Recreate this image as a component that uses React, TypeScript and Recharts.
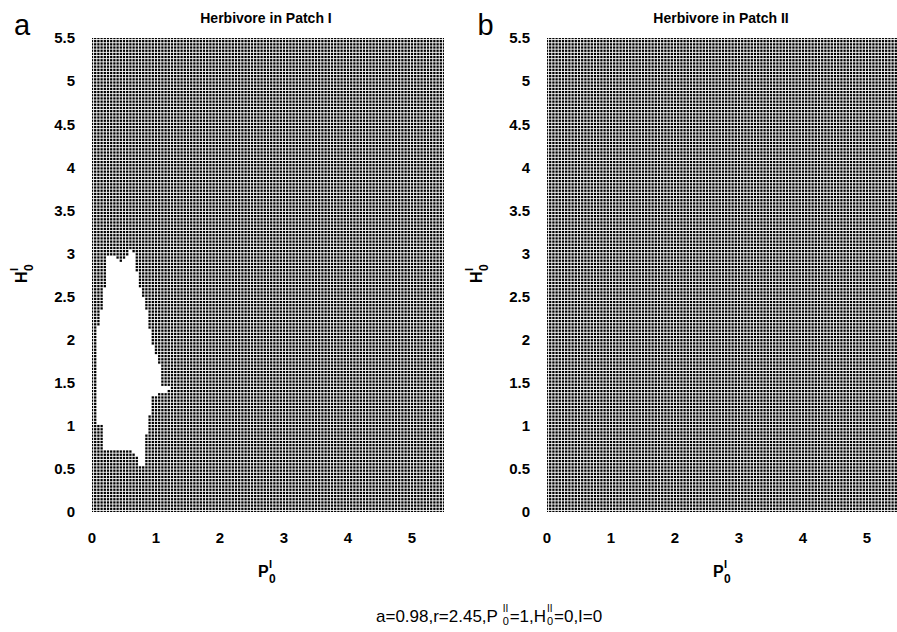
import React from 'react';
import { ScatterChart, Scatter, XAxis, YAxis } from 'recharts';

// ---- data ----
const AXIS_MAX = 5.5;
const P0_GRID_COUNT = 111; // sampled initial plant densities (columns)
const H0_GRID_COUNT = 150; // sampled initial herbivore densities (rows)
const xTicks = [0, 1, 2, 3, 4, 5];
const yTicks = [0, 0.5, 1, 1.5, 2, 2.5, 3, 3.5, 4, 4.5, 5, 5.5];
const panelTitles = ['Herbivore in Patch I', 'Herbivore in Patch II'];
const panelLetters = ['a', 'b'];
// boundary (P0, H0) of the blank (extinction) region in panel a
const blankRegionA: [number, number][] = [
  [0.28, 3.0], [0.44, 2.91], [0.56, 2.98], [0.64, 3.09], [0.67, 2.89], [0.72, 2.69],
  [0.8, 2.49], [0.86, 2.31], [0.92, 2.05], [0.94, 1.96], [1.06, 1.68], [1.09, 1.47],
  [1.31, 1.42], [1.06, 1.39], [0.95, 1.33], [0.94, 1.18], [0.86, 1.09], [0.83, 0.57],
  [0.78, 0.49], [0.67, 0.7], [0.2, 0.72], [0.17, 1.01], [0.08, 1.04], [0.08, 2.11],
  [0.14, 2.3], [0.19, 2.49], [0.23, 2.89], [0.25, 2.96],
];
const blankRegionB: [number, number][] = [];

const FONT = '"Liberation Sans", Arial, Helvetica, sans-serif';

const p0Values = Array.from({ length: P0_GRID_COUNT }, (_, i) => (i * AXIS_MAX) / (P0_GRID_COUNT - 1));
const h0Values = Array.from({ length: H0_GRID_COUNT }, (_, j) => (j * AXIS_MAX) / (H0_GRID_COUNT - 1));

function inside(poly: [number, number][], x: number, y: number) {
  let c = false;
  for (let i = 0, j = poly.length - 1; i < poly.length; j = i++) {
    const [xi, yi] = poly[i];
    const [xj, yj] = poly[j];
    if (yi > y !== yj > y && x < ((xj - xi) * (y - yi)) / (yj - yi) + xi) c = !c;
  }
  return c;
}

function buildPoints(blank: [number, number][]) {
  const pts: { p: number; h: number }[] = [];
  for (const p of p0Values) {
    for (const h of h0Values) {
      if (blank.length && inside(blank, p, h)) continue;
      pts.push({ p, h });
    }
  }
  return pts;
}

const dataA = buildPoints(blankRegionA);
const dataB = buildPoints(blankRegionB);

const Dot = (props: any) => (
  <rect x={props.cx - 1.15} y={props.cy - 1.15} width={2.3} height={2.3} fill="#000" />
);

const tickStyle = { fontSize: 15, fontWeight: 'bold', fill: '#000', fontFamily: FONT } as any;

function Panel({ data, left }: { data: { p: number; h: number }[]; left: number }) {
  return (
    <div style={{ position: 'absolute', left, top: 0 }}>
      <ScatterChart width={455} height={632} margin={{ top: 38, right: 11, bottom: 80, left: 0 }}>
        <XAxis
          type="number"
          dataKey="p"
          domain={[0, AXIS_MAX]}
          ticks={xTicks}
          interval={0}
          allowDataOverflow
          axisLine={false}
          tickLine={false}
          tickSize={6}
          tickMargin={14}
          height={40}
          tick={tickStyle}
        />
        <YAxis
          type="number"
          dataKey="h"
          domain={[0, AXIS_MAX]}
          ticks={yTicks}
          interval={0}
          allowDataOverflow
          width={92}
          axisLine={false}
          tickLine={false}
          tickSize={6}
          tickMargin={11}
          tick={tickStyle}
        />
        <Scatter data={data} isAnimationActive={false} shape={Dot} />
      </ScatterChart>
    </div>
  );
}

function AxisLabels({ dx }: { dx: number }) {
  return (
    <g fontFamily={FONT} fontWeight="bold" fill="#000">
      {/* x label P_0^I */}
      <text x={258 + dx} y={577} fontSize={16}>P</text>
      <text x={269 + dx} y={568} fontSize={11}>I</text>
      <text x={269 + dx} y={583} fontSize={12}>0</text>
      {/* y label H_0^I */}
      <g transform={`translate(${27 + dx},283) rotate(-90)`}>
        <text x={0} y={0} fontSize={16}>H</text>
        <text x={12} y={-9} fontSize={11}>I</text>
        <text x={12} y={6} fontSize={12}>0</text>
      </g>
    </g>
  );
}

export default function App() {
  const capFs = 17;
  const w = (em: number) => em * capFs;
  const x0 = 376;
  const x1 = x0 + w(7.172) + w(0.278);
  const x2 = x1 + 7;
  const x3 = x2 + w(2.14) + 1;
  const x4 = x3 + 7;
  return (
    <div style={{ position: 'absolute', left: 0, top: 0, width: 897, height: 632, overflow: 'hidden', background: '#fff' }}>
      <Panel data={dataA} left={0} />
      <Panel data={dataB} left={455} />
      <svg width={897} height={632} style={{ position: 'absolute', left: 0, top: 0, pointerEvents: 'none' }}>
        <text x={22} y={35} fontSize={29} textAnchor="middle" fontFamily={FONT} fill="#000">{panelLetters[0]}</text>
        <text x={485.5} y={35} fontSize={29} textAnchor="middle" fontFamily={FONT} fill="#000">{panelLetters[1]}</text>
        <text x={266} y={23} fontSize={14} fontWeight="bold" textAnchor="middle" fontFamily={FONT} fill="#000">{panelTitles[0]}</text>
        <text x={721} y={23} fontSize={14} fontWeight="bold" textAnchor="middle" fontFamily={FONT} fill="#000">{panelTitles[1]}</text>
        <AxisLabels dx={0} />
        <AxisLabels dx={455} />
        <g fontFamily={FONT} fill="#000">
          <text x={x0} y={622} fontSize={capFs}>a=0.98,r=2.45,P</text>
          <text x={x1} y={612} fontSize={10}>II</text>
          <text x={x1} y={625} fontSize={11}>0</text>
          <text x={x2} y={622} fontSize={capFs}>=1,H</text>
          <text x={x3} y={612} fontSize={10}>II</text>
          <text x={x3} y={625} fontSize={11}>0</text>
          <text x={x4} y={622} fontSize={capFs}>=0,I=0</text>
        </g>
      </svg>
    </div>
  );
}
